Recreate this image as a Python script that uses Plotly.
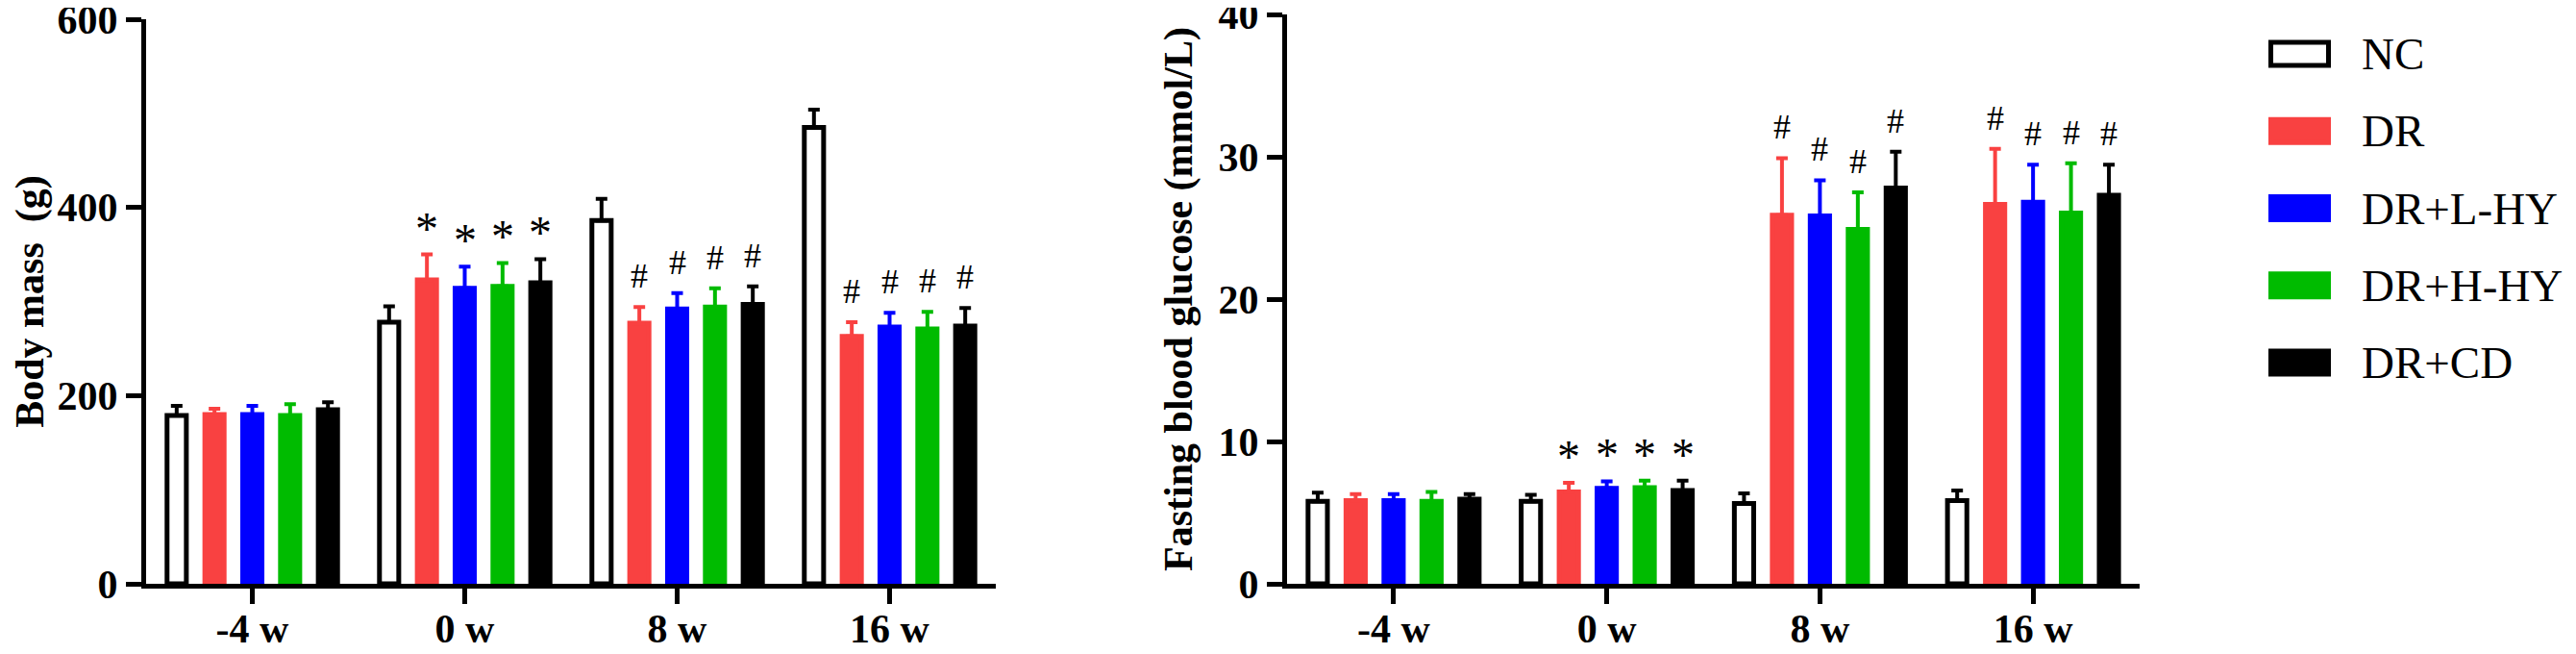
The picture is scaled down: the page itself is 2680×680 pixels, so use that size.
import plotly.graph_objects as go

# data (mean and upper SD per group, per week)
weeks = ["-4 w", "0 w", "8 w", "16 w"]
groups = ["NC", "DR", "DR+L-HY", "DR+H-HY", "DR+CD"]

mass_mean = [
    [179, 278, 386, 485],   # NC
    [180, 323, 277, 263],   # DR
    [180, 314, 292, 273],   # DR+L-HY
    [179, 316, 294, 271],   # DR+H-HY
    [185, 320, 297, 274],   # DR+CD
]
mass_sd = [
    [10, 17, 23, 19],
    [6, 27, 17, 15],
    [9, 23, 17, 15],
    [12, 25, 20, 18],
    [8, 25, 19, 19],
]

fbg_mean = [
    [5.8, 5.8, 5.65, 5.85],
    [5.85, 6.45, 25.9, 26.65],
    [5.85, 6.7, 25.85, 26.8],
    [5.8, 6.75, 24.9, 26.05],
    [5.95, 6.55, 27.8, 27.3],
]
fbg_sd = [
    [0.6, 0.45, 0.7, 0.7],
    [0.45, 0.65, 4.0, 3.9],
    [0.45, 0.5, 2.5, 2.65],
    [0.65, 0.5, 2.6, 3.5],
    [0.35, 0.7, 2.55, 2.15],
]

# marks over the treated groups (DR ... DR+CD) at each week
sig_marks = ["", "*", "#", "#"]

fills = ["white", "#F94141", "#0000FF", "#00BB00", "black"]
edges = ["black", "#F94141", "#0000FF", "#00BB00", "black"]

SERIF = "Liberation Serif"
SERIF_STACK = "Times New Roman, Liberation Serif, Times, serif"

# the page body keeps its default 8px margin, so the figure is drawn
# 8px in from the window corner; size it to fill the rest of the window
OFF = 8
W, H = 2680 - OFF, 680 - OFF
BARGAP = 0.11
GROUPGAP = 0.49


def fx(p):
    # window pixel column -> paper x
    return (p - OFF) / W


def fy(p):
    # window pixel row -> paper y
    return 1 - (p - OFF) / H


panels = [
    (mass_mean, mass_sd, "x", "y"),
    (fbg_mean, fbg_sd, "x2", "y2"),
]

fig = go.Figure()

for gi, name in enumerate(groups):
    for mean, sd, xa, ya in panels:
        fig.add_trace(go.Bar(
            x=weeks,
            y=mean[gi],
            name=name,
            xaxis=xa,
            yaxis=ya,
            showlegend=False,
            marker=dict(color=fills[gi], line=dict(color=edges[gi], width=5)),
            error_y=dict(
                type="data",
                symmetric=False,
                array=sd[gi],
                arrayminus=[0] * len(weeks),
                color=edges[gi],
                thickness=4,
                width=6,
            ),
        ))

# significance marks above the error bars
pitch = (1 - BARGAP) / len(groups)
for wi, mark in enumerate(sig_marks):
    if not mark:
        continue
    for gi in range(1, len(groups)):
        for mean, sd, xa, ya in panels:
            fig.add_annotation(
                x=wi + (gi - 2) * pitch,
                y=mean[gi][wi] + sd[gi][wi],
                xref=xa, yref=ya,
                text=mark,
                showarrow=False,
                yanchor="bottom",
                yshift=-1 if mark == "*" else 10,
                font=dict(family=SERIF_STACK, size=48 if mark == "*" else 36, color="black"),
            )

# legend drawn by hand so the swatches match the big boxes
for gi, name in enumerate(groups):
    yc = 56 + gi * 80.25
    fig.add_shape(
        type="rect", xref="paper", yref="paper",
        x0=fx(2362.5), x1=fx(2422.5),
        y0=fy(yc - 12), y1=fy(yc + 12),
        line=dict(color=edges[gi], width=5),
        fillcolor=fills[gi],
    )
    fig.add_annotation(
        x=fx(2455), y=fy(yc), xref="paper", yref="paper",
        text=name, showarrow=False, xanchor="left", yanchor="middle",
        font=dict(family=SERIF_STACK, size=47, color="black", weight="normal"),
    )

axis_style = dict(
    showline=True, linewidth=5, linecolor="black",
    ticks="outside", ticklen=16, tickwidth=5, tickcolor="black",
    showgrid=False, zeroline=False, ticklabeloverflow="allow",
    automargin=False,
    tickfont=dict(family=SERIF, size=42, color="black", weight="bold"),
)
title_font = dict(family=SERIF, size=42, color="black", weight="bold")

fig.update_layout(
    width=W, height=H,
    margin=dict(l=0, r=0, t=0, b=0),
    paper_bgcolor="white", plot_bgcolor="white",
    font=dict(family=SERIF_STACK),
    barmode="group", bargap=BARGAP, bargroupgap=GROUPGAP,
    xaxis=dict(axis_style, domain=[fx(152), fx(1036)], range=[-0.5, 3.5],
               type="category", anchor="y", ticklabelstandoff=-10),
    yaxis=dict(axis_style, domain=[fy(607), fy(20)], range=[0, 600.01],
               tickvals=[0, 200, 400, 600], anchor="x",
               title=dict(text="Body mass\u00a0 (g)", font=title_font, standoff=15)),
    xaxis2=dict(axis_style, domain=[fx(1339), fx(2226)], range=[-0.5, 3.5],
                type="category", anchor="y2", ticklabelstandoff=-10),
    yaxis2=dict(axis_style, domain=[fy(607), fy(15)], range=[0, 40.001],
                tickvals=[0, 10, 20, 30, 40], anchor="x2",
                title=dict(text="Fasting blood glucose (mmol/L)", font=title_font, standoff=15)),
)

fig.write_html("out.html")
